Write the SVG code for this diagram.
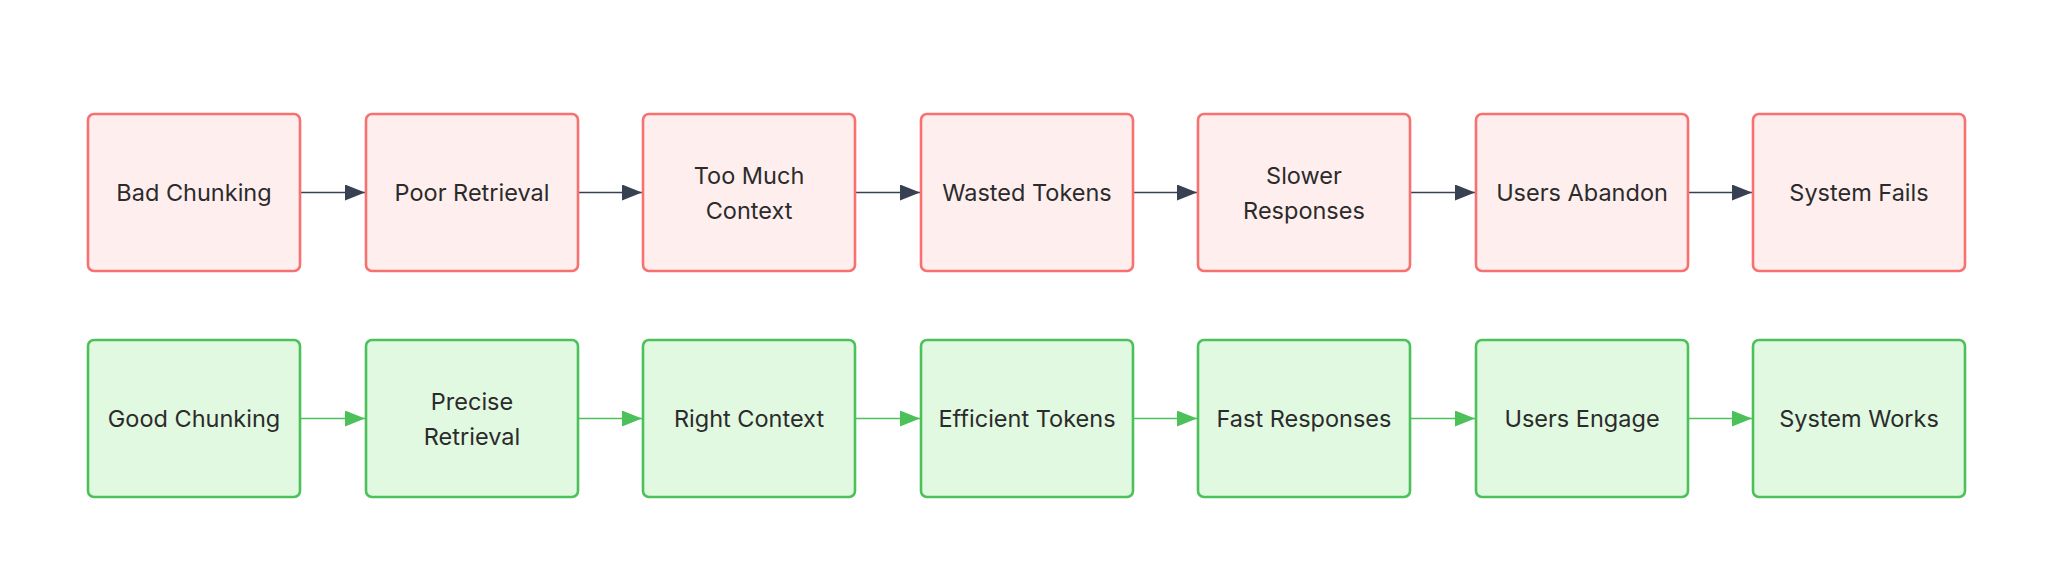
<svg xmlns="http://www.w3.org/2000/svg" width="2048" height="564" viewBox="0 0 2048 564">
<defs>
<style>
.bad rect{fill:#ffeeee;stroke:#f87171;stroke-width:2.6}
.good rect{fill:#e1f8e1;stroke:#4cc15a;stroke-width:2.6}
text{font-family:Inter,"Noto Sans",sans-serif;font-size:23.5px;fill:#2b2b2b;text-anchor:middle;dominant-baseline:central}
.cb{stroke:#374151;stroke-width:1.5;fill:none}
.cg{stroke:#4cc15a;stroke-width:1.5;fill:none}
</style>
<marker id="ab" viewBox="0 0 10 10" refX="10" refY="5" markerWidth="20" markerHeight="16" markerUnits="userSpaceOnUse" orient="auto" preserveAspectRatio="none"><path d="M0,0L10,5L0,10z" fill="#374151"/></marker>
<marker id="ag" viewBox="0 0 10 10" refX="10" refY="5" markerWidth="20" markerHeight="16" markerUnits="userSpaceOnUse" orient="auto" preserveAspectRatio="none"><path d="M0,0L10,5L0,10z" fill="#4cc15a"/></marker>
</defs>
<rect width="2048" height="564" fill="#fff"/>
<g id="connectors">
<path class="cb" marker-end="url(#ab)" d="M301,192.5H365"/>
<path class="cb" marker-end="url(#ab)" d="M578,192.5H642"/>
<path class="cb" marker-end="url(#ab)" d="M856,192.5H920"/>
<path class="cb" marker-end="url(#ab)" d="M1133,192.5H1197"/>
<path class="cb" marker-end="url(#ab)" d="M1411,192.5H1475"/>
<path class="cb" marker-end="url(#ab)" d="M1688,192.5H1752"/>
<path class="cg" marker-end="url(#ag)" d="M301,418.5H365"/>
<path class="cg" marker-end="url(#ag)" d="M578,418.5H642"/>
<path class="cg" marker-end="url(#ag)" d="M856,418.5H920"/>
<path class="cg" marker-end="url(#ag)" d="M1133,418.5H1197"/>
<path class="cg" marker-end="url(#ag)" d="M1411,418.5H1475"/>
<path class="cg" marker-end="url(#ag)" d="M1688,418.5H1752"/>
</g>
<g id="b1" class="bad"><rect x="88" y="114" width="212" height="157" rx="6"/><text x="194" y="192.5">Bad Chunking</text></g>
<g id="b2" class="bad"><rect x="366" y="114" width="212" height="157" rx="6"/><text x="472" y="192.5">Poor Retrieval</text></g>
<g id="b3" class="bad"><rect x="643" y="114" width="212" height="157" rx="6"/><text x="749" y="175">Too Much</text><text x="749" y="210">Context</text></g>
<g id="b4" class="bad"><rect x="921" y="114" width="212" height="157" rx="6"/><text x="1027" y="192.5">Wasted Tokens</text></g>
<g id="b5" class="bad"><rect x="1198" y="114" width="212" height="157" rx="6"/><text x="1304" y="175">Slower</text><text x="1304" y="210">Responses</text></g>
<g id="b6" class="bad"><rect x="1476" y="114" width="212" height="157" rx="6"/><text x="1582" y="192.5">Users Abandon</text></g>
<g id="b7" class="bad"><rect x="1753" y="114" width="212" height="157" rx="6"/><text x="1859" y="192.5">System Fails</text></g>
<g id="g1" class="good"><rect x="88" y="340" width="212" height="157" rx="6"/><text x="194" y="418.5">Good Chunking</text></g>
<g id="g2" class="good"><rect x="366" y="340" width="212" height="157" rx="6"/><text x="472" y="401">Precise</text><text x="472" y="436">Retrieval</text></g>
<g id="g3" class="good"><rect x="643" y="340" width="212" height="157" rx="6"/><text x="749" y="418.5">Right Context</text></g>
<g id="g4" class="good"><rect x="921" y="340" width="212" height="157" rx="6"/><text x="1027" y="418.5">Efficient Tokens</text></g>
<g id="g5" class="good"><rect x="1198" y="340" width="212" height="157" rx="6"/><text x="1304" y="418.5">Fast Responses</text></g>
<g id="g6" class="good"><rect x="1476" y="340" width="212" height="157" rx="6"/><text x="1582" y="418.5">Users Engage</text></g>
<g id="g7" class="good"><rect x="1753" y="340" width="212" height="157" rx="6"/><text x="1859" y="418.5">System Works</text></g>
</svg>
